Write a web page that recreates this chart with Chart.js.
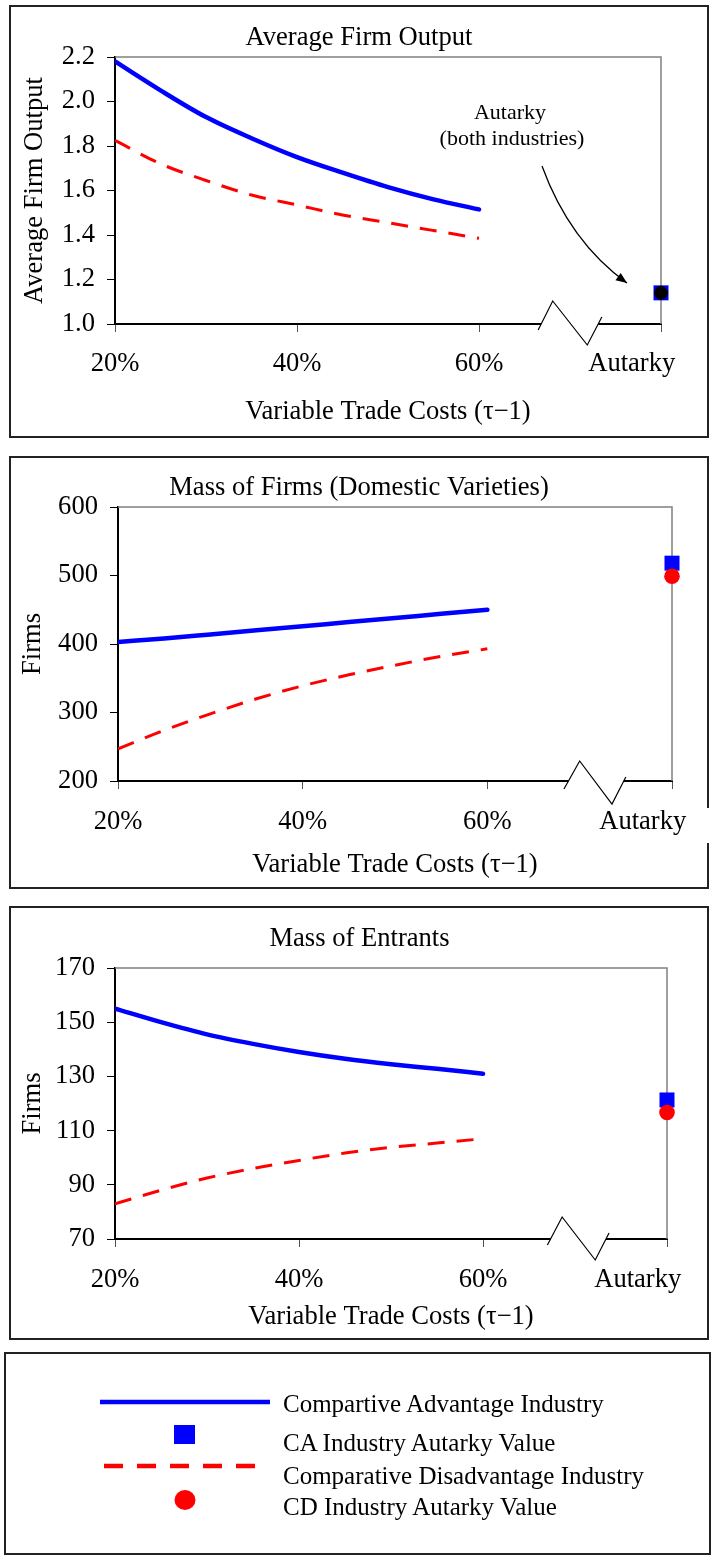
<!DOCTYPE html>
<html>
<head>
<meta charset="utf-8">
<script src="https://cdn.jsdelivr.net/npm/chart.js@4.4.1/dist/chart.umd.min.js"></script>
<style>
  html, body { margin: 0; padding: 0; background: #fff; }
  body { width: 711px; height: 1557px; position: relative; overflow: hidden; }
  canvas { position: absolute; }
  .frame { position: absolute; border: 2px solid #222; box-sizing: border-box; pointer-events: none; }
  #legend { position: absolute; left: 0; top: 1340px; }
</style>
</head>
<body>
<canvas id="c1" width="698" height="431" style="left:10px;top:6px"></canvas>
<div class="frame" style="left:9px;top:5px;width:700px;height:433px"></div>

<canvas id="c2" width="698" height="431" style="left:10px;top:457px"></canvas>
<div class="frame" style="left:9px;top:456px;width:700px;height:433px"></div>
<div style="position:absolute;left:703px;top:808px;width:8px;height:35px;background:#fff"></div>

<canvas id="c3" width="699" height="432" style="left:10px;top:907px"></canvas>
<div class="frame" style="left:9px;top:906px;width:700px;height:434px"></div>

<div class="frame" style="left:4px;top:1352px;width:707px;height:203px"></div>
<svg id="legend" width="711" height="217" xmlns="http://www.w3.org/2000/svg"
     font-family="'Liberation Serif','Times New Roman',serif" font-size="25">
  <line x1="100" y1="62" x2="270" y2="62" stroke="#0000ff" stroke-width="4.5"/>
  <rect x="174" y="85" width="21" height="19" fill="#0000ff"/>
  <line x1="104" y1="126" x2="256" y2="126" stroke="#ff0000" stroke-width="4.5" stroke-dasharray="19 14"/>
  <ellipse cx="185" cy="160" rx="10.5" ry="10" fill="#ff0000"/>
  <text x="283" y="71.7">Compartive Advantage Industry</text>
  <text x="283" y="111">CA Industry Autarky Value</text>
  <text x="283" y="144.3">Comparative Disadvantage Industry</text>
  <text x="283" y="175">CD Industry Autarky Value</text>
</svg>

<script>
// --- Données ---
const X_VALS = [20, 25, 30, 35, 40, 45, 50, 55, 60];
const AUTARKY_X = 80;
const X_TICKS = [20, 40, 60, 80];
const X_TICK_LABELS = ['20%', '40%', '60%', 'Autarky'];
const X_TITLE = 'Variable Trade Costs (\u03c4\u22121)';

// Average Firm Output
const OUT_CA = [2.18, 2.05, 1.93, 1.835, 1.75, 1.68, 1.615, 1.56, 1.515];
const OUT_CD = [1.825, 1.72, 1.645, 1.58, 1.535, 1.49, 1.455, 1.42, 1.385];
const OUT_AUT_CA = 1.14;
const OUT_AUT_CD = 1.14;
const OUT_Y_TICKS = [1.0, 1.2, 1.4, 1.6, 1.8, 2.0, 2.2];

// Mass of Firms (Domestic Varieties)
const FIRMS_CA = [403, 408, 414, 420, 426, 432, 438, 444, 450];
const FIRMS_CD = [247, 274, 298, 320, 339, 355, 369, 382, 393];
const FIRMS_AUT_CA = 518;
const FIRMS_AUT_CD = 499;
const FIRMS_Y_TICKS = [200, 300, 400, 500, 600];

// Mass of Entrants
const ENTR_CA = [155, 150, 145.5, 142, 139, 136.5, 134.5, 132.8, 131];
const ENTR_CD = [83, 88, 92.5, 96, 99, 101.7, 103.8, 105.4, 107];
const ENTR_AUT_CA = 121.3;
const ENTR_AUT_CD = 116.7;
const ENTR_Y_TICKS = [70, 90, 110, 130, 150, 170];

// --- Styles ---
const FONT = "'Liberation Serif', 'Times New Roman', serif";
const FS = 26.6;
Chart.defaults.font.family = FONT;
Chart.defaults.color = '#000';
const BLUE = '#0000ff';
const RED = '#ff0000';
const AUT_PAD = '\u2003\u2003\u2009'; // décale le libellé Autarky vers la gauche

const lineData = (ys) => X_VALS.map((x, i) => ({ x, y: ys[i] }));

// --- Titre, cadre gris, coupure d'axe, annotation ---
function makeDecor(p) {
  return {
    id: 'decor',
    beforeDatasetsDraw(chart) {
      const { ctx, chartArea: a } = chart;
      ctx.save();
      ctx.strokeStyle = '#808080';
      ctx.lineWidth = 1.5;
      ctx.beginPath();
      ctx.moveTo(a.left, a.top);
      ctx.lineTo(a.right, a.top);
      ctx.lineTo(a.right, a.bottom);
      ctx.stroke();
      ctx.restore();
    },
    afterDraw(chart) {
      const { ctx, chartArea: a, scales: { x } } = chart;
      ctx.save();

      // titre centré sur le panneau
      ctx.fillStyle = '#000';
      ctx.font = `${FS}px ${FONT}`;
      ctx.textAlign = 'center';
      ctx.textBaseline = 'middle';
      ctx.fillText(p.title, chart.width / 2, p.titleY);

      // coupure de l'axe des x
      const bx = p.breakX.map(v => x.getPixelForValue(v));
      const by = p.breakDy.map(d => a.bottom + d);
      const cross = (i, j) => bx[i] + (a.bottom - by[i]) / (by[j] - by[i]) * (bx[j] - bx[i]);
      const xa = cross(0, 1), xb = cross(2, 3);
      ctx.fillStyle = '#fff';
      ctx.fillRect(xa, a.bottom - 2, xb - xa, 4);
      ctx.strokeStyle = '#000';
      ctx.lineWidth = 1.2;
      ctx.beginPath();
      bx.forEach((px, i) => i ? ctx.lineTo(px, by[i]) : ctx.moveTo(px, by[i]));
      ctx.stroke();

      if (p.note) {
        const n = p.note;
        ctx.fillStyle = '#000';
        ctx.font = `22px ${FONT}`;
        n.lines.forEach((t, i) => ctx.fillText(t, n.textX[i], n.textY[i]));
        const [sx, sy, cx, cy, ex, ey] = n.arrow;
        ctx.lineWidth = 1.3;
        ctx.beginPath();
        ctx.moveTo(sx, sy);
        ctx.quadraticCurveTo(cx, cy, ex, ey);
        ctx.stroke();
        const ang = Math.atan2(ey - cy, ex - cx);
        ctx.beginPath();
        ctx.moveTo(ex, ey);
        ctx.lineTo(ex - 11 * Math.cos(ang) + 4.5 * Math.sin(ang), ey - 11 * Math.sin(ang) - 4.5 * Math.cos(ang));
        ctx.lineTo(ex - 11 * Math.cos(ang) - 4.5 * Math.sin(ang), ey - 11 * Math.sin(ang) + 4.5 * Math.cos(ang));
        ctx.closePath();
        ctx.fill();
      }
      ctx.restore();
    }
  };
}

// --- Construction d'un panneau ---
function makeChart(id, p) {
  const yMin = p.yTicks[0], yMax = p.yTicks[p.yTicks.length - 1];
  return new Chart(document.getElementById(id), {
    type: 'line',
    data: {
      datasets: [
        { data: [{ x: AUTARKY_X, y: p.autCD }], showLine: false, pointStyle: 'circle',
          pointRadius: p.dotRadius, backgroundColor: p.dotColor, borderWidth: 0, clip: false, order: 0 },
        { data: [{ x: AUTARKY_X, y: p.autCA }], showLine: false, pointStyle: 'rect',
          pointRadius: 10.6, backgroundColor: BLUE, borderWidth: 0, clip: false, order: 1 },
        { data: lineData(p.ca), borderColor: BLUE, borderWidth: 4.5, pointRadius: 0,
          cubicInterpolationMode: 'monotone', borderCapStyle: 'round', order: 2 },
        { data: lineData(p.cd), borderColor: RED, borderWidth: 3, borderDash: [17, 12], pointRadius: 0,
          cubicInterpolationMode: 'monotone', order: 3 }
      ]
    },
    options: {
      responsive: false,
      animation: false,
      events: [],
      layout: { padding: { top: p.plotTop, left: 0, bottom: 0, right: p.padRight } },
      plugins: {
        legend: { display: false },
        tooltip: { enabled: false },
        title: { display: false }
      },
      scales: {
        x: {
          type: 'linear', min: 20, max: 80,
          afterBuildTicks: (s) => { s.ticks = X_TICKS.map(value => ({ value })); },
          afterFit: (s) => { s.height = p.xHeight; s.paddingLeft = 0; s.paddingRight = 0; },
          grid: { drawOnChartArea: false, drawTicks: true, tickLength: 8, color: '#555' },
          border: { display: true, color: '#000', width: 2 },
          ticks: {
            autoSkip: false, maxRotation: 0, padding: p.xTickPad, color: '#000', font: { size: FS },
            callback: (v, i) => i === X_TICKS.length - 1 ? X_TICK_LABELS[i] + AUT_PAD : X_TICK_LABELS[i]
          },
          title: { display: true, text: X_TITLE, color: '#000', font: { size: FS },
                   padding: { top: 0, bottom: p.xTitlePad } }
        },
        y: {
          type: 'linear', min: yMin, max: yMax,
          afterBuildTicks: (s) => { s.ticks = p.yTicks.map(value => ({ value })); },
          afterFit: (s) => { s.width = p.yWidth; s.paddingTop = 0; s.paddingBottom = 0; },
          grid: { drawOnChartArea: false, drawTicks: true, tickLength: 8, color: '#000' },
          border: { display: true, color: '#000', width: 2 },
          ticks: { padding: 12, color: '#000', font: { size: FS }, callback: (v) => p.yFmt(v) },
          title: { display: true, text: p.yTitle, color: '#000', font: { size: FS },
                   padding: { top: p.yTitlePad, bottom: 0 } }
        }
      }
    },
    plugins: [makeDecor(p)]
  });
}

makeChart('c1', {
  title: 'Average Firm Output', yTitle: 'Average Firm Output',
  ca: OUT_CA, cd: OUT_CD, autCA: OUT_AUT_CA, autCD: OUT_AUT_CD,
  yTicks: OUT_Y_TICKS, yFmt: (v) => v.toFixed(1),
  dotColor: '#000', dotRadius: 7,
  plotTop: 51, titleY: 32,
  padRight: 47, xHeight: 113, yWidth: 105,
  xTickPad: 16, xTitlePad: 9, yTitlePad: 9,
  breakX: [66.5, 68.1, 71.9, 73.5], breakDy: [6, -23, 21, -7],
  note: {
    lines: ['Autarky', '(both industries)'],
    textX: [500, 502], textY: [107, 133],
    arrow: [532, 160, 559.5, 235.5, 617, 277]
  }
});

makeChart('c2', {
  title: 'Mass of Firms (Domestic Varieties)', yTitle: 'Firms',
  ca: FIRMS_CA, cd: FIRMS_CD, autCA: FIRMS_AUT_CA, autCD: FIRMS_AUT_CD,
  yTicks: FIRMS_Y_TICKS, yFmt: (v) => String(v),
  dotColor: RED, dotRadius: 7.8,
  plotTop: 50, titleY: 31,
  padRight: 36, xHeight: 107, yWidth: 108,
  xTickPad: 17, xTitlePad: 7, yTitlePad: 7,
  breakX: [68.3, 70.0, 73.5, 75.0], breakDy: [8, -20, 23, -4]
});

makeChart('c3', {
  title: 'Mass of Entrants', yTitle: 'Firms',
  ca: ENTR_CA, cd: ENTR_CD, autCA: ENTR_AUT_CA, autCD: ENTR_AUT_CD,
  yTicks: ENTR_Y_TICKS, yFmt: (v) => String(v),
  dotColor: RED, dotRadius: 7.8,
  plotTop: 61, titleY: 32,
  padRight: 42, xHeight: 100, yWidth: 105,
  xTickPad: 17, xTitlePad: 6, yTitlePad: 7,
  breakX: [67.0, 68.6, 72.2, 73.7], breakDy: [6, -22, 21, -6]
});
</script>
</body>
</html>
